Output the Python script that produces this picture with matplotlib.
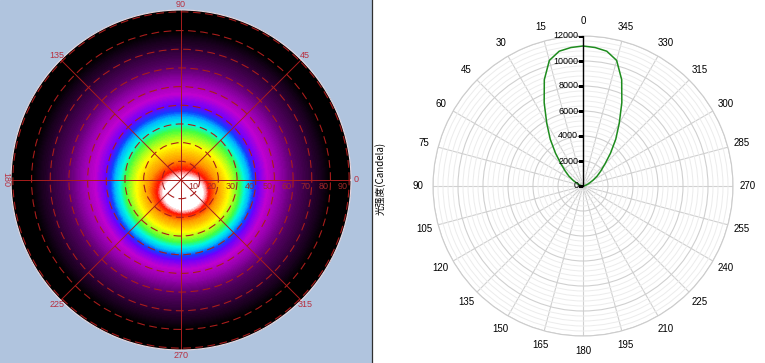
import numpy as np
import matplotlib.pyplot as plt
from matplotlib.colors import LinearSegmentedColormap
from matplotlib.lines import Line2D
from matplotlib.patches import Rectangle

# candela distribution (right panel), symmetric around 0
angles_deg = [0, 5, 10, 15, 20, 25, 30, 35, 40, 45, 50, 55, 60, 65, 70, 75, 80, 85, 90]
candela = [11200, 11120, 10950, 10400, 9050, 7350, 5800, 4570, 3420, 2480,
           1850, 1380, 920, 600, 380, 220, 110, 40, 0]

# false colour map (left panel): relative level vs angle from the hot spot
map_theta = [0, 8.5, 10, 11.5, 16, 19.5, 22.5, 26, 29, 32, 35, 37.5, 41, 46, 52, 60, 68, 75, 80, 91]
map_level = [1.0, 1.0, 0.95, 0.91, 0.84, 0.80, 0.76, 0.72, 0.68, 0.62, 0.56, 0.50,
             0.44, 0.38, 0.32, 0.22, 0.14, 0.07, 0.0, 0.0]
hotspot_offset = (1.5, -8.5)   # deg, centre of the hot spot
hotspot_stretch = 0.35

left_angles = [0, 45, 90, 135, 180, 225, 270, 315]
left_rings = [10, 20, 30, 40, 50, 60, 70, 80, 90]
right_rticks = [0, 2000, 4000, 6000, 8000, 10000, 12000]

plt.rcParams['font.family'] = ['Liberation Sans', 'DejaVu Sans']

fig = plt.figure(figsize=(7.65, 3.63), dpi=100)
fig.patches.append(Rectangle((0, 0), 371 / 765, 1, transform=fig.transFigure,
                             color='#B0C4DE', zorder=-10))
fig.add_artist(Line2D([371.5 / 765, 371.5 / 765], [0, 1], color='#303030', lw=0.9))

# ---------------- left: false colour polar map ----------------
cmap = LinearSegmentedColormap.from_list('lum', [
    (0.00, '#000000'), (0.08, '#1c0022'), (0.20, '#520060'), (0.30, '#9000a8'),
    (0.38, '#c000d0'), (0.45, '#6a00ff'), (0.50, '#1040ff'), (0.56, '#00b8ff'),
    (0.62, '#00f8e0'), (0.68, '#40ff40'), (0.76, '#ffff00'), (0.84, '#ff9800'),
    (0.91, '#ff1000'), (0.95, '#ffa0a0'), (1.00, '#ffffff')], N=128)

axl = fig.add_axes([11 / 765, 13 / 363, 340 / 765, 340 / 363], projection='polar')
phi = np.linspace(0, 2 * np.pi, 721)
rr = np.linspace(0, 91, 320)
P, R = np.meshgrid(phi, rr)
X = R * np.cos(P)
Y = R * np.sin(P)
d0 = np.hypot(X - hotspot_offset[0], Y - hotspot_offset[1])
w = np.clip(1 - d0 / 50.0, 0, 1)
dx = (X - hotspot_offset[0] * w) / (1 + hotspot_stretch * w ** 2)
dy = Y - hotspot_offset[1] * w
rho = np.hypot(dx, dy)
L = np.interp(rho, map_theta, map_level)
axl.pcolormesh(P, R, L, cmap=cmap, vmin=0, vmax=1, shading='auto')
axl.set_ylim(0, 91)
axl.set_xticks(np.deg2rad(left_angles))
axl.set_yticks(left_rings)
axl.set_xticklabels([])
axl.set_yticklabels([])
axl.xaxis.grid(True, color='#a81c1c', lw=0.7, ls='-')
axl.yaxis.grid(True, color='#a81c1c', lw=0.8, ls=(0, (7, 4)))
axl.tick_params(length=0)
axl.spines['polar'].set_color('#e8d8e0')
axl.spines['polar'].set_linewidth(0.8)
lab_col = '#b83040'
for a in left_angles:
    rot = 270 if a == 180 else 0
    axl.text(np.deg2rad(a), 94, str(a), ha='center', va='center', color=lab_col,
             fontsize=6.5, rotation=rot, clip_on=False)
for r in left_rings:
    axl.annotate(str(r), (0, r), xytext=(-1, -1.5), textcoords='offset points',
                 ha='right', va='top', color='#a02828', fontsize=6.5)

# ---------------- right: candela polar curve ----------------
axr = fig.add_axes([433 / 765, 27 / 363, 300 / 765, 300 / 363], projection='polar')
axr.set_theta_zero_location('N')
axr.set_theta_direction(1)
th = np.deg2rad(np.concatenate([-np.array(angles_deg[::-1]), angles_deg[1:]]))
cd = np.concatenate([candela[::-1], candela[1:]])
axr.plot(th, cd, color='#1e8c1e', lw=1.1, zorder=5)
axr.set_ylim(0, 12000)
axr.set_thetagrids(np.arange(0, 360, 15), [str(a) for a in range(0, 360, 15)])
axr.tick_params(axis='x', pad=0, labelsize=7)
axr.set_yticks(right_rticks)
axr.set_yticks(np.arange(0, 12001, 400), minor=True)
axr.set_yticklabels([])
axr.xaxis.grid(True, color='#d0d0d0', lw=0.8)
axr.yaxis.grid(True, which='major', color='#d0d0d0', lw=0.8)
axr.yaxis.grid(True, which='minor', color='#ececec', lw=0.7)
axr.tick_params(axis='y', which='both', length=0)
axr.spines['polar'].set_color('#cccccc')
axr.spines['polar'].set_linewidth(0.8)
axr.plot(np.zeros(2), [0, 12000], color='black', lw=1.0, zorder=6)
axr.plot(np.zeros(len(right_rticks)), right_rticks, ls='none', marker=0,
         color='black', ms=3.5, mew=1.0, zorder=6)
for r in right_rticks:
    axr.annotate(str(r), (0, r), xytext=(-3.5, 0), textcoords='offset points',
                 ha='right', va='center', fontsize=6.5, zorder=7)

fig.text(380 / 765, 1 - 178 / 363, '光强度(Candela)', rotation=90, ha='center',
         va='center', fontsize=7, family=['Noto Sans CJK SC', 'DejaVu Sans'])

fig.savefig('out.png', dpi=100)
